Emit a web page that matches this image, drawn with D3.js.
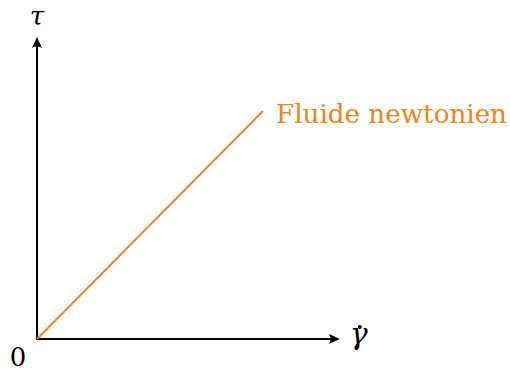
<!DOCTYPE html>
<html><head><meta charset="utf-8">
<script src="https://cdn.jsdelivr.net/npm/d3@7"></script>
<style>html,body{margin:0;padding:0;background:#fff;} text{font-family:"DejaVu Serif", "Liberation Serif", serif;}</style>
</head><body>
<svg id="c" width="510" height="372"></svg>
<script>
// Data
const lineX = [0, 1];
const lineY = [0, 1];
const axisMax = { x: 1.34, y: 1.325 };
const labels = { curve: "Fluide newtonien", x: "γ", y: "τ", origin: "0" };

const svg = d3.select("#c");
const x = d3.scaleLinear().domain([0, 1]).range([37, 263]);
const y = d3.scaleLinear().domain([0, 1]).range([339, 111]);
const orange = "#ea8420";

// axes
svg.append("line").attr("x1", x(0)).attr("y1", y(0)).attr("x2", x(axisMax.x) - 3).attr("y2", y(0))
  .attr("stroke", "#000").attr("stroke-width", 2);
svg.append("line").attr("x1", x(0)).attr("y1", y(0) + 1).attr("x2", x(0)).attr("y2", y(axisMax.y) + 3)
  .attr("stroke", "#000").attr("stroke-width", 2);

function arrow(tx, ty, angle) {
  svg.append("path")
    .attr("d", "M0,0 L-11,-5 Q-7.5,0 -11,5 Z")
    .attr("transform", `translate(${tx},${ty}) rotate(${angle})`)
    .attr("fill", "#000");
}
arrow(x(axisMax.x), y(0), 0);
arrow(x(0), y(axisMax.y), -90);

// curve
const data = lineX.map((d, i) => [d, lineY[i]]);
svg.append("path").datum(data)
  .attr("d", d3.line().x(d => x(d[0])).y(d => y(d[1])))
  .attr("stroke", orange).attr("stroke-width", 1.8).attr("fill", "none");

// labels
svg.append("text").attr("x", x(lineX[1]) + 13).attr("y", y(lineY[1]) + 12)
  .attr("font-size", 26).attr("fill", orange)
  .attr("textLength", 231).attr("lengthAdjust", "spacingAndGlyphs")
  .text(labels.curve);
const gx = x(axisMax.x) + 10;
svg.append("text").attr("x", gx).attr("y", y(0) + 5)
  .attr("font-style", "italic").attr("font-size", 30)
  .text(labels.x);
svg.append("circle").attr("cx", gx + 10).attr("cy", y(0) - 12).attr("r", 2).attr("fill", "#000");
svg.append("text").attr("x", x(0)).attr("y", 25).attr("text-anchor", "middle")
  .attr("font-style", "italic").attr("font-size", 26)
  .text(labels.y);
svg.append("text").attr("x", 18).attr("y", 366).attr("text-anchor", "middle")
  .attr("font-size", 26)
  .text(labels.origin);
</script>
</body></html>
